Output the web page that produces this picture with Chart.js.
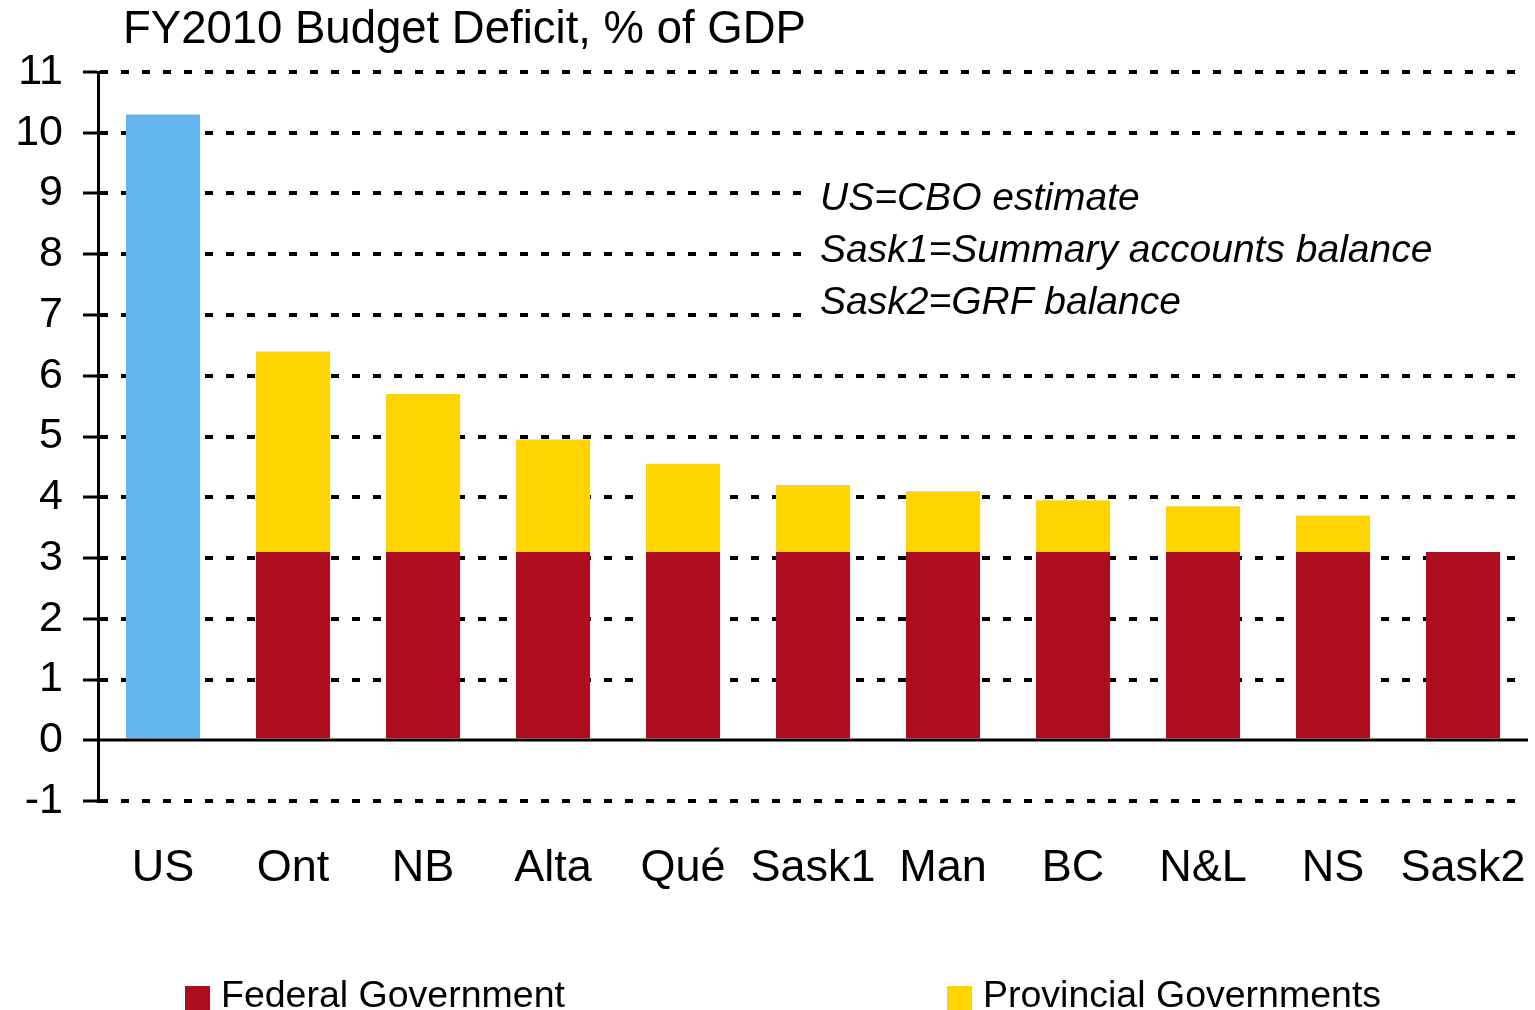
<!DOCTYPE html>
<html>
<head>
<meta charset="utf-8">
<script src="https://cdn.jsdelivr.net/npm/chart.js@4.4.0/dist/chart.umd.min.js"></script>
<style>
body { margin: 0; background: #fff; }
canvas { display: block; }
</style>
</head>
<body>
<canvas id="chartCanvas" width="1535" height="1010"></canvas>
<script>
// values, % of GDP
var categories = ['US', 'Ont', 'NB', 'Alta', 'Qué', 'Sask1', 'Man', 'BC', 'N&L', 'NS', 'Sask2'];
var usDeficit = [10.3, null, null, null, null, null, null, null, null, null, null];
var federal = [null, 3.1, 3.1, 3.1, 3.1, 3.1, 3.1, 3.1, 3.1, 3.1, 3.1];
var provincial = [null, 3.3, 2.6, 1.85, 1.45, 1.1, 1.0, 0.85, 0.75, 0.6, null];
var yMin = -1;
var yMax = 11;
var chartTitle = 'FY2010 Budget Deficit, % of GDP';
var notes = ['US=CBO estimate', 'Sask1=Summary accounts balance', 'Sask2=GRF balance'];

var FONT = '"Liberation Sans", Arial, sans-serif';

var extras = {
    id: 'extras',
    beforeDatasetsDraw: function (chart) {
        var ctx = chart.ctx;
        // white box behind the notes hides the grid lines there
        ctx.save();
        ctx.fillStyle = '#fff';
        ctx.fillRect(805, 168, 730, 170);
        ctx.restore();
    },
    afterDatasetsDraw: function (chart) {
        var ctx = chart.ctx;
        var area = chart.chartArea;
        var y0 = Math.round(chart.scales.y.getPixelForValue(0));
        ctx.save();
        ctx.strokeStyle = '#000';
        ctx.lineWidth = 3;
        ctx.beginPath();
        ctx.moveTo(area.left, y0);
        ctx.lineTo(area.right, y0);
        ctx.stroke();
        ctx.restore();
    },
    afterDraw: function (chart) {
        var ctx = chart.ctx;
        ctx.save();
        ctx.fillStyle = '#000';
        ctx.textBaseline = 'middle';
        ctx.textAlign = 'left';

        ctx.font = '45.5px ' + FONT;
        ctx.fillText(chartTitle, 123, 30);

        ctx.font = 'italic 39px ' + FONT;
        for (var i = 0; i < notes.length; i++) {
            ctx.fillText(notes[i], 820, 199 + i * 52);
        }

        // legend: federal and provincial only
        var items = [chart.data.datasets[1], chart.data.datasets[2]];
        var xs = [185, 947];
        ctx.font = '37.5px ' + FONT;
        ctx.textBaseline = 'alphabetic';
        for (var j = 0; j < items.length; j++) {
            ctx.fillStyle = items[j].backgroundColor;
            ctx.fillRect(xs[j], 986, 25, 24);
            ctx.fillStyle = '#000';
            ctx.fillText(items[j].label, xs[j] + 36, 1007);
        }
        ctx.restore();
    }
};

var ctx = document.getElementById('chartCanvas').getContext('2d');

var chart = new Chart(ctx, {
    type: 'bar',
    data: {
        labels: categories,
        datasets: [
            { label: 'US', data: usDeficit, backgroundColor: '#62B5EE' },
            { label: 'Federal Government', data: federal, backgroundColor: '#AD0D1E' },
            { label: 'Provincial Governments', data: provincial, backgroundColor: '#FFD400' }
        ]
    },
    options: {
        responsive: false,
        animation: false,
        categoryPercentage: 1,
        barPercentage: 0.57,
        layout: {
            padding: { left: 0, right: 7, top: 72, bottom: 89 }
        },
        plugins: {
            legend: { display: false },
            tooltip: { enabled: false },
            title: { display: false }
        },
        scales: {
            x: {
                stacked: true,
                afterFit: function (scale) {
                    scale.height = 120;
                    scale.paddingLeft = 0;
                    scale.paddingRight = 0;
                },
                grid: { display: false, drawTicks: false },
                border: { display: false },
                ticks: {
                    padding: 41,
                    maxRotation: 0,
                    minRotation: 0,
                    autoSkip: false,
                    color: '#000',
                    font: { family: FONT, size: 45 }
                }
            },
            y: {
                stacked: true,
                min: yMin,
                max: yMax,
                afterFit: function (scale) { scale.width = 98; },
                border: { display: true, width: 3, color: '#000', dash: [8, 13] },
                grid: {
                    lineWidth: 4,
                    color: function (c) { return c.tick && c.tick.value === 0 ? 'rgba(0,0,0,0)' : '#000'; },
                    tickColor: '#000',
                    tickWidth: 3,
                    tickLength: 15,
                    tickBorderDash: []
                },
                ticks: {
                    stepSize: 1,
                    padding: 20,
                    color: '#000',
                    font: { family: FONT, size: 43 }
                }
            }
        }
    },
    plugins: [extras]
});
</script>
</body>
</html>
